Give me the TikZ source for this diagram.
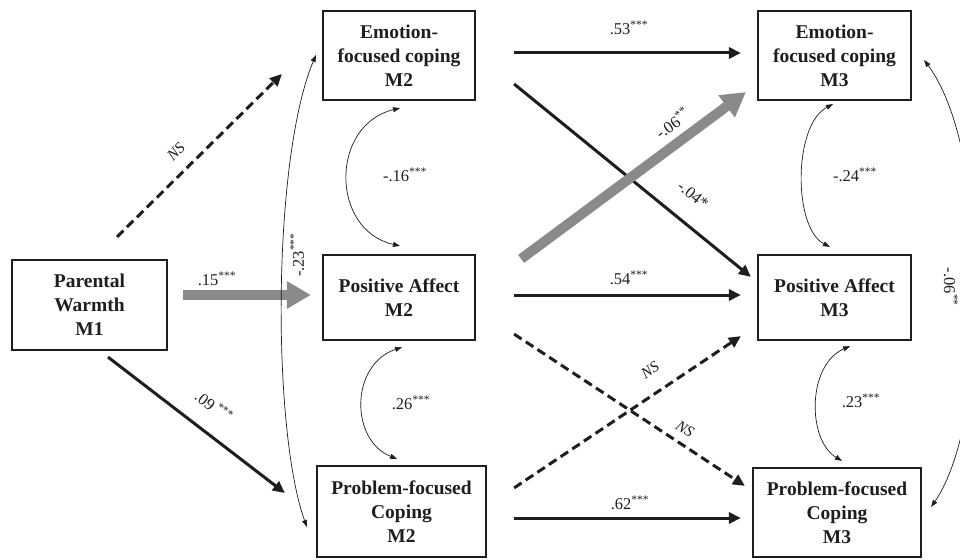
\documentclass[tikz,border=0pt]{standalone}
\usepackage{fontspec}
\setmainfont{Liberation Serif}
\usetikzlibrary{arrows.meta,calc}
\definecolor{arrgray}{RGB}{138,138,138}
\definecolor{ink}{RGB}{30,30,30}
\begin{document}
\begin{tikzpicture}[x=1pt,y=-1pt,
  box/.style={draw=ink, line width=2.2pt, align=center, inner sep=0pt, font=\fontsize{19.5}{24}\selectfont\bfseries, text=ink},
  effarrow/.style={draw=ink, line width=3pt, -{Triangle[length=12pt,width=11pt]}},
  nsarrow/.style={effarrow, dash pattern=on 9pt off 5pt},
  grayarr/.style={draw=arrgray, line width=10pt, -{Triangle[length=24pt,width=26pt]}},
  cov/.style={draw=ink, line width=0.7pt, {Triangle[length=7pt,width=5pt]}-{Triangle[length=7pt,width=5pt]}},
  lbl/.style={font=\fontsize{16.5}{18}\selectfont, text=ink, inner sep=0pt},
  nslbl/.style={font=\fontsize{15.5}{17}\selectfont\itshape, text=ink, inner sep=0pt}
]
\clip (0,0) rectangle (960,559);
\fill[white] (0,0) rectangle (960,559);

% boxes
\node[box, minimum width=155pt, minimum height=90pt] (pw) at (89.5,305) {Parental\\Warmth\\M1};
\node[box, minimum width=152pt, minimum height=89pt] (e2) at (399,55.5) {Emotion-\\focused coping\\M2};
\node[box, minimum width=152pt, minimum height=85pt] (p2) at (399,297.5) {Positive Affect\\M2};
\node[box, minimum width=169pt, minimum height=91pt] (c2) at (401.5,511.5) {Problem-focused\\Coping\\M2};
\node[box, minimum width=153pt, minimum height=89pt] (e3) at (834.5,55.5) {Emotion-\\focused coping\\M3};
\node[box, minimum width=153pt, minimum height=85pt] (p3) at (834.5,297.5) {Positive Affect\\M3};
\node[box, minimum width=168pt, minimum height=89pt] (c3) at (837,512.5) {Problem-focused\\Coping\\M3};

% paths from M1
\draw[nsarrow] ($(pw.north)+(27.5,-22)$) -- ($(e2.west)+(-40,18.5)$);
\draw[grayarr] ($(pw.east)+(15,-10)$) -- ($(p2.west)+(-11,-2.5)$);
\draw[effarrow] ($(pw.south)+(18.5,6)$) -- ($(c2.west)+(-31,-18.5)$);

% covariances M2
\draw[cov] ($(c2.west)+(-9,15.5)$) .. controls (272,430) and (272,160) .. ($(e2.west)+(-6,-0.5)$);
\draw[cov] ($(e2.south)+(1,7)$) .. controls (330,125) and (330,230) .. ($(p2.north)+(1,-8)$);
\draw[cov] ($(p2.south)+(3,6)$) .. controls (350,365) and (350,440) .. ($(c2.north)+(-4.5,-6)$);

% M2 -> M3
\draw[effarrow] ($(e2.east)+(38,-2.5)$) -- ($(e3.west)+(-16,-2.5)$);
\draw[effarrow] ($(e2.east)+(38,28.5)$) -- ($(p3.north west)+(-6,23)$);
\draw[grayarr] ($(p2.north east)+(45,5)$) -- ($(e3.south west)+(-11,-9)$);
\draw[effarrow] ($(p2.east)+(38,-2.5)$) -- ($(p3.west)+(-16,-2.5)$);
\draw[nsarrow] ($(p2.south east)+(38,-7)$) -- ($(c3.north west)+(-7,19)$);
\draw[nsarrow] ($(c2.north east)+(27,23)$) -- ($(p3.south west)+(-16,-5)$);
\draw[effarrow] ($(c2.east)+(27,6.5)$) -- ($(c3.west)+(-11,5.5)$);

% covariances M3
\draw[cov] ($(e3.south)+(-1.5,3)$) .. controls (793,125) and (793,228) .. ($(p3.north)+(-4.5,-7)$);
\draw[cov] ($(p3.south)+(15.5,5)$) .. controls (807,365) and (807,440) .. ($(c3.north)+(5,-6)$);
\draw[cov] ($(e3.east)+(12,4.5)$) .. controls (991,150) and (991,420) .. ($(c3.east)+(9,-5.5)$);

% labels
\node[nslbl, rotate=44.7] (l1) at (176,152) {NS};
\node[lbl] (l2) at (217,279) {.15\textsuperscript{***}};
\node[lbl, rotate=-37.6] (l3) at (214,406) {.09\,\textsuperscript{***}};
\node[lbl, rotate=90] (l4) at (297,255) {-.23\textsuperscript{***}};
\node[lbl] (l5) at (405,175) {-.16\textsuperscript{***}};
\node[lbl] (l6) at (411,403) {.26\textsuperscript{***}};
\node[lbl] (l7) at (629,28) {.53\textsuperscript{***}};
\node[lbl] (l8) at (629,278) {.54\textsuperscript{***}};
\node[lbl] (l9) at (630,503) {.62\textsuperscript{***}};
\node[lbl, rotate=36] (l10) at (672,123) {-.06\textsuperscript{**}};
\node[lbl, rotate=-39] (l11) at (693,195) {-.04*};
\node[lbl] (l12) at (855,175) {-.24\textsuperscript{***}};
\node[lbl] (l13) at (861,401) {.23\textsuperscript{***}};
\node[nslbl, rotate=34] (l14) at (650,370) {NS};
\node[nslbl, rotate=-33.5] (l15) at (685,429) {NS};
\node[lbl, rotate=-90] (l16) at (951,287) {-.06\textsuperscript{**}};
\end{tikzpicture}
\end{document}
